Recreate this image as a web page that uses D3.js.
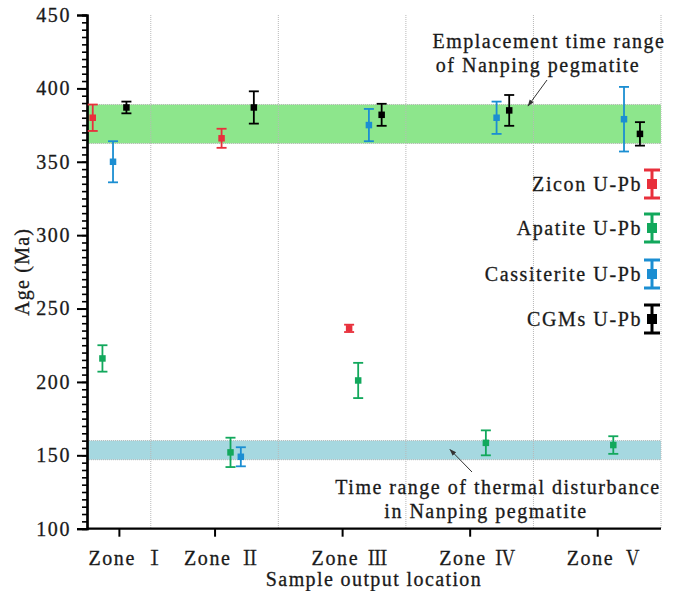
<!DOCTYPE html>
<html>
<head>
<meta charset="utf-8">
<script src="https://cdn.jsdelivr.net/npm/d3@7"></script>
<style>
  html, body { margin: 0; padding: 0; background: #fff; }
</style>
</head>
<body>
<svg id="chart" width="685" height="591" font-family="Liberation Serif"></svg>
<script>
// Sample zones along the x axis (tick positions in zone units)
const zoneWord = "Zone";
const zoneNumerals = ["Ⅰ", "Ⅱ", "Ⅲ", "Ⅳ", "Ⅴ"];
const zoneTicks = [1.25, 2, 3, 4, 5];
const zoneBounds = [1.5, 2.5, 3.5, 4.5, 5.5];
const yTicks = [100, 150, 200, 250, 300, 350, 400, 450];

// Age ranges shown as shaded bands (Ma)
const emplacementRange = [362.5, 389];
const thermalRange = [147, 160];

// Zircon U-Pb
const zirconX = [1.045, 2.055, 3.055];
const zirconAge = [380, 366, 236.5];
const zirconErr = [9, 6.5, 2.5];
// Apatite U-Pb
const apatiteX = [1.121, 2.125, 3.126, 4.127, 5.126];
const apatiteAge = [216, 152, 201, 158.5, 157];
const apatiteErr = [9, 10, 12, 8.5, 6];
// Cassiterite U-Pb
const cassX = [1.204, 2.206, 3.21, 4.211, 5.21];
const cassAge = [350, 149, 375, 380, 379];
const cassErr = [14, 6.5, 11, 11, 22];
// CGMs U-Pb
const cgmX = [1.309, 2.308, 3.31, 4.31, 5.335];
const cgmAge = [387, 387, 382, 385, 369];
const cgmErr = [4, 11, 7.5, 10.5, 8];

const seriesNames = ["Zicon U-Pb", "Apatite U-Pb", "Cassiterite U-Pb", "CGMs U-Pb"];
const seriesColors = ["#e8303c", "#12a85c", "#1b8ed2", "#000000"];

const series = [
  { x: zirconX, age: zirconAge, err: zirconErr },
  { x: apatiteX, age: apatiteAge, err: apatiteErr },
  { x: cassX, age: cassAge, err: cassErr },
  { x: cgmX, age: cgmAge, err: cgmErr }
].map((s, i) => ({ name: seriesNames[i], color: seriesColors[i],
  points: s.x.map((x, j) => ({ x, age: s.age[j], err: s.err[j] })) }));

const SERIF = "Liberation Serif";
const TXT = "#1a1a1a";
const svg = d3.select("#chart");
const plotL = 87, plotR = 661, plotT = 15, plotB = 528.7;

const x = d3.scaleLinear().domain([1, 5.5]).range([plotL, plotR]);
const y = d3.scaleLinear().domain([100, 450]).range([plotB, plotT]);

// shared look for the serif labels
function serif(sel, size, spacing) {
  return sel.attr("font-family", SERIF).attr("font-size", size)
    .attr("letter-spacing", spacing + "px")
    .attr("fill", TXT).attr("stroke", TXT).attr("stroke-width", 0.3);
}

// shaded bands
const bands = [
  { r: emplacementRange, fill: "#8de68c" },
  { r: thermalRange, fill: "#a6d8e0" }
];
bands.forEach(b => {
  svg.append("rect")
    .attr("x", plotL).attr("width", plotR - plotL)
    .attr("y", y(b.r[1])).attr("height", y(b.r[0]) - y(b.r[1]))
    .attr("fill", b.fill);
  [b.r[0], b.r[1]].forEach(v => {
    svg.append("line")
      .attr("x1", plotL).attr("x2", plotR).attr("y1", y(v)).attr("y2", y(v))
      .attr("stroke", "#b5b5b5").attr("stroke-width", 1).attr("stroke-dasharray", "1,1");
  });
});

// dotted zone boundaries
svg.append("g").selectAll("line").data(zoneBounds).join("line")
  .attr("x1", d => x(d)).attr("x2", d => x(d))
  .attr("y1", plotT).attr("y2", plotB)
  .attr("stroke", "#b8b8b8").attr("stroke-width", 1).attr("stroke-dasharray", "1,1");

// y axis with minor ticks every 5 Ma
const yMinor = svg.append("g").attr("transform", `translate(${plotL},0)`)
  .call(d3.axisLeft(y).tickValues(d3.range(100, 451, 5)).tickSize(5).tickFormat(""));
yMinor.selectAll(".tick line").attr("stroke-width", 1.6);
const yMajor = svg.append("g").attr("transform", `translate(${plotL},0)`)
  .call(d3.axisLeft(y).tickValues(yTicks).tickSize(10).tickPadding(6).tickFormat(d3.format("d")));
yMajor.attr("font-family", SERIF);
yMajor.selectAll(".tick line").attr("stroke-width", 2);
serif(yMajor.selectAll("text"), 20, 1.6);
[yMinor, yMajor].forEach(g => g.select(".domain").attr("stroke-width", 2.2));

// x axis: "Zone" plus a Roman numeral
const xAxisG = svg.append("g").attr("transform", `translate(0,${plotB})`)
  .call(d3.axisBottom(x).tickValues(zoneTicks).tickSize(8).tickFormat(""));
xAxisG.select(".domain").attr("stroke-width", 2.2).attr("d", `M${plotL},0H${plotR}`);
xAxisG.selectAll(".tick line").attr("stroke-width", 2);
xAxisG.selectAll(".tick").each(function (d, i) {
  const t = serif(d3.select(this).append("text"), 20, 1.6)
    .attr("y", 36).attr("text-anchor", "start");
  t.append("tspan").attr("x", -31).text(zoneWord);
  t.append("tspan").attr("x", 25).attr("font-family", "Noto Serif CJK SC")
    .attr("letter-spacing", "0px").text(zoneNumerals[i]);
});

// axis titles
serif(svg.append("text"), 20, 1.2)
  .attr("transform", `translate(29,${(plotT + plotB) / 2}) rotate(-90)`)
  .attr("text-anchor", "middle")
  .text("Age (Ma)");
serif(svg.append("text"), 20, 1.4)
  .attr("x", (plotL + plotR) / 2).attr("y", 586)
  .attr("text-anchor", "middle")
  .text("Sample output location");

// error bars with square markers
function errorBar(g, cx, age, err, color, cap, sq, sw) {
  const y0 = y(age - err), y1 = y(age + err);
  g.append("line").attr("x1", cx).attr("x2", cx).attr("y1", y0).attr("y2", y1)
    .attr("stroke", color).attr("stroke-width", sw);
  [y0, y1].forEach(v => g.append("line")
    .attr("x1", cx - cap / 2).attr("x2", cx + cap / 2).attr("y1", v).attr("y2", v)
    .attr("stroke", color).attr("stroke-width", sw));
  g.append("rect").attr("x", cx - sq / 2).attr("y", y(age) - sq / 2)
    .attr("width", sq).attr("height", sq).attr("fill", color);
}

series.forEach(s => {
  const g = svg.append("g");
  s.points.forEach(p => errorBar(g, x(p.x), p.age, p.err, s.color, 10, 6.5, 1.8));
});

// legend
const legend = svg.append("g");
const legendY = [184, 228, 274, 319];
series.forEach((s, i) => {
  const cy = legendY[i];
  const g = legend.append("g");
  const cx = 652;
  g.append("line").attr("x1", cx).attr("x2", cx).attr("y1", cy - 14).attr("y2", cy + 14)
    .attr("stroke", s.color).attr("stroke-width", 3);
  [cy - 14, cy + 14].forEach(v => g.append("line")
    .attr("x1", cx - 8).attr("x2", cx + 8).attr("y1", v).attr("y2", v)
    .attr("stroke", s.color).attr("stroke-width", 3));
  g.append("rect").attr("x", cx - 5).attr("y", cy - 5).attr("width", 10).attr("height", 10)
    .attr("fill", s.color);
  serif(g.append("text"), 20, 1.6)
    .attr("x", 642).attr("y", cy + 7).attr("text-anchor", "end").text(s.name);
});

// annotations
svg.append("defs").append("marker")
  .attr("id", "arrow").attr("viewBox", "0 0 10 10").attr("refX", 9).attr("refY", 5)
  .attr("markerWidth", 7).attr("markerHeight", 7).attr("orient", "auto")
  .append("path").attr("d", "M0,1.5L10,5L0,8.5Z").attr("fill", "#333");

function note(lines, cx, baselines) {
  lines.forEach((t, i) => serif(svg.append("text"), 20, 1.5)
    .attr("x", cx[i]).attr("y", baselines[i]).attr("text-anchor", "middle").text(t));
}
note(["Emplacement time range", "of Nanping pegmatite"], [549, 538], [48, 72]);
note(["Time range of thermal disturbance", "in Nanping pegmatite"], [498, 486], [494, 518]);

svg.append("line").attr("x1", 547).attr("y1", 80).attr("x2", 528).attr("y2", 106)
  .attr("stroke", "#333").attr("stroke-width", 1).attr("marker-end", "url(#arrow)");
svg.append("line").attr("x1", 472).attr("y1", 472).attr("x2", 450).attr("y2", 449.5)
  .attr("stroke", "#333").attr("stroke-width", 1).attr("marker-end", "url(#arrow)");
</script>
</body>
</html>
